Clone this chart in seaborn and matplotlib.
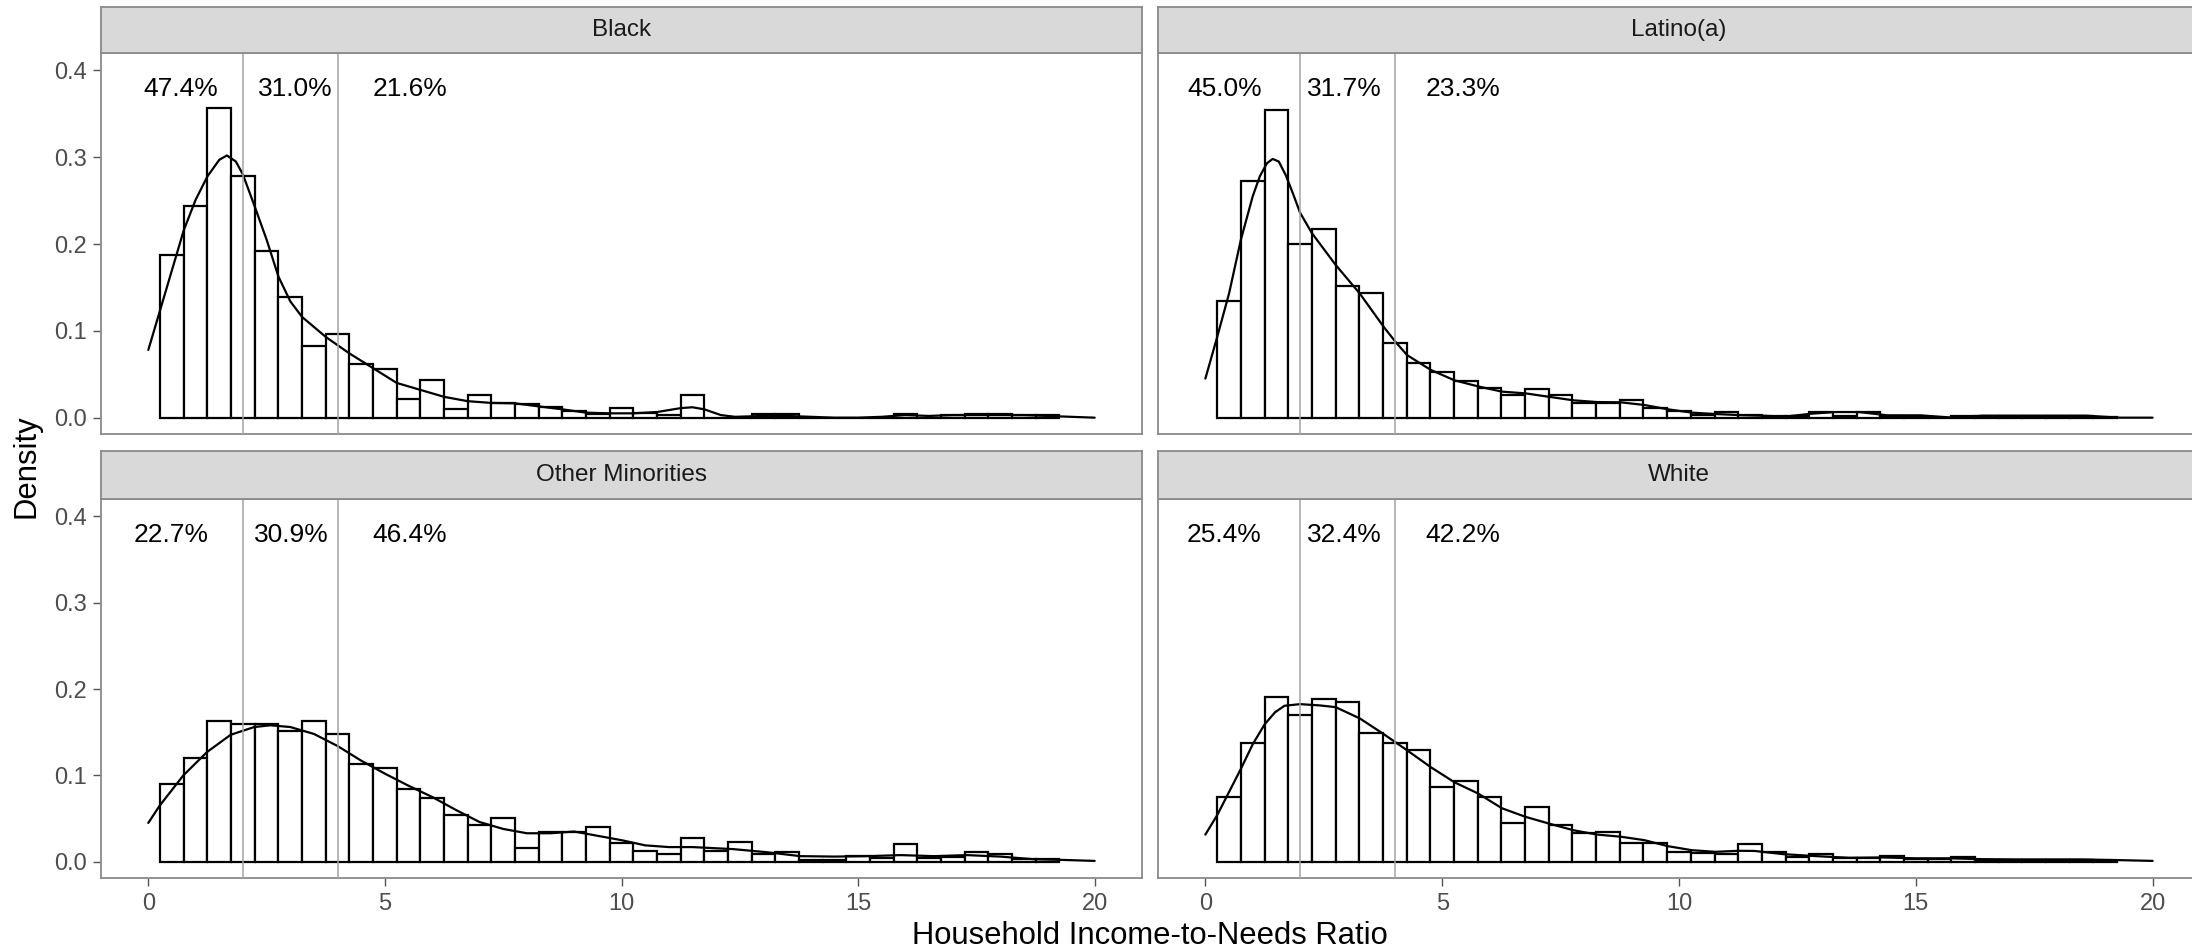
# %%
import numpy as np
import pandas as pd
import seaborn as sns
import matplotlib.pyplot as plt

# %% data
groups = ["Black", "Latino(a)", "Other Minorities", "White"]

# histogram bins of width 0.5, centred on 0.5, 1.0, ..., 19.0
bin_edges = [round(0.25 + 0.5 * k, 2) for k in range(39)]
bin_centers = [round(0.5 + 0.5 * k, 2) for k in range(38)]

hist_black = [0.1875, 0.244, 0.357, 0.278, 0.192, 0.139, 0.083, 0.096, 0.0615, 0.056,
              0.022, 0.043, 0.010, 0.026, 0.0165, 0.0154, 0.0127, 0.008, 0.0046, 0.011,
              0.005, 0.003, 0.026, 0.0, 0.0, 0.004, 0.004, 0.0, 0.0, 0.0,
              0.0, 0.004, 0.0, 0.003, 0.004, 0.004, 0.003, 0.003]
hist_latino = [0.134, 0.273, 0.354, 0.200, 0.217, 0.152, 0.144, 0.0857, 0.0626, 0.053,
               0.042, 0.034, 0.026, 0.033, 0.026, 0.0165, 0.0165, 0.020, 0.011, 0.008,
               0.003, 0.006, 0.003, 0.002, 0.002, 0.007, 0.002, 0.007, 0.002, 0.001,
               0.0, 0.002, 0.002, 0.002, 0.002, 0.002, 0.002, 0.001]
hist_other = [0.0895, 0.120, 0.1625, 0.159, 0.159, 0.151, 0.1625, 0.148, 0.113, 0.108,
              0.0845, 0.074, 0.054, 0.042, 0.051, 0.0165, 0.034, 0.034, 0.040, 0.022,
              0.012, 0.009, 0.028, 0.013, 0.023, 0.0085, 0.0115, 0.002, 0.002, 0.007,
              0.004, 0.020, 0.004, 0.005, 0.0115, 0.0085, 0.003, 0.003]
hist_white = [0.075, 0.1376, 0.191, 0.170, 0.188, 0.185, 0.149, 0.138, 0.129, 0.0865,
              0.093, 0.075, 0.045, 0.063, 0.043, 0.033, 0.034, 0.022, 0.022, 0.0115,
              0.0096, 0.0085, 0.020, 0.0115, 0.005, 0.0085, 0.0046, 0.004, 0.0065, 0.003,
              0.0027, 0.0058, 0.002, 0.002, 0.002, 0.002, 0.002, 0.001]

# density curves (x, y)
kde_black_x = [0, 0.25, 0.5, 0.75, 1.0, 1.25, 1.5, 1.66, 1.85, 2.0, 2.25, 2.5, 2.75, 3.0,
               3.25, 3.75, 4.25, 4.75, 5.25, 5.75, 6.25, 6.75, 7.25, 7.75, 8.25, 8.75,
               9.25, 9.75, 10.25, 10.75, 11.25, 11.5, 11.75, 12.1, 12.4, 13.0, 13.5, 14.0,
               14.5, 15.0, 15.5, 16.0, 16.5, 17.0, 17.5, 18.0, 18.5, 19.0, 19.5, 20.0]
kde_black_y = [0.078, 0.124, 0.170, 0.216, 0.251, 0.278, 0.297, 0.302, 0.295, 0.280, 0.243,
               0.205, 0.1625, 0.134, 0.116, 0.093, 0.074, 0.057, 0.040, 0.032, 0.024, 0.019,
               0.017, 0.0165, 0.013, 0.0096, 0.0058, 0.005, 0.005, 0.0065, 0.011, 0.012,
               0.0096, 0.003, 0.001, 0.002, 0.002, 0.001, 0.0, 0.0, 0.001, 0.003, 0.002,
               0.003, 0.003, 0.003, 0.003, 0.002, 0.001, 0.0]
kde_latino_x = [0, 0.25, 0.5, 0.75, 1.0, 1.15, 1.3, 1.42, 1.55, 1.7, 1.85, 2.0, 2.25, 2.75,
                3.26, 3.76, 4.01, 4.26, 4.76, 5.26, 5.76, 6.26, 6.76, 7.26, 7.77, 8.27,
                8.77, 9.27, 9.77, 10.27, 10.77, 11.27, 11.9, 12.2, 12.8, 13.3, 13.8, 14.4,
                15.1, 15.8, 16.4, 17.5, 18.6, 19.3, 20.0]
kde_latino_y = [0.045, 0.093, 0.143, 0.205, 0.255, 0.278, 0.293, 0.298, 0.295, 0.279, 0.258,
                0.236, 0.2125, 0.176, 0.143, 0.105, 0.0876, 0.072, 0.055, 0.043, 0.036, 0.030,
                0.028, 0.024, 0.020, 0.018, 0.0177, 0.0146, 0.0096, 0.0058, 0.0042, 0.003,
                0.002, 0.001, 0.0046, 0.0065, 0.0065, 0.0027, 0.0027, 0.0, 0.0023, 0.0023,
                0.0023, 0.0, 0.0]
kde_other_x = [0, 0.24, 0.74, 1.24, 1.74, 2.24, 2.58, 3.0, 3.5, 4.0, 4.5, 5.0, 5.5, 6.0, 6.5,
               7.0, 7.5, 8.0, 8.5, 9.0, 9.5, 10.0, 10.5, 11.0, 11.5, 12.37, 13.08, 13.78,
               14.5, 15.2, 15.9, 16.6, 17.3, 18.0, 18.7, 19.4, 20.0]
kde_other_y = [0.045, 0.065, 0.100, 0.127, 0.147, 0.156, 0.158, 0.156, 0.148, 0.134, 0.117,
               0.102, 0.088, 0.075, 0.060, 0.046, 0.038, 0.033, 0.033, 0.035, 0.030, 0.025,
               0.019, 0.017, 0.017, 0.0146, 0.011, 0.0065, 0.006, 0.0065, 0.0077, 0.0065,
               0.0077, 0.006, 0.003, 0.002, 0.001]
kde_white_x = [0, 0.25, 0.75, 1.0, 1.25, 1.47, 1.67, 2.0, 2.42, 2.75, 3.26, 3.76, 4.26, 4.76,
               5.26, 5.76, 6.26, 6.76, 7.27, 7.77, 8.27, 8.77, 9.27, 9.77, 10.27, 10.77,
               11.27, 11.6, 12.2, 12.9, 13.6, 14.3, 15.0, 15.7, 16.4, 17.1, 18.5, 19.2, 20.0]
kde_white_y = [0.0315, 0.054, 0.1076, 0.136, 0.159, 0.173, 0.1806, 0.1825, 0.181, 0.179,
               0.166, 0.148, 0.129, 0.1095, 0.092, 0.079, 0.062, 0.052, 0.044, 0.0365,
               0.0315, 0.029, 0.025, 0.018, 0.0134, 0.0115, 0.0127, 0.0125, 0.0088, 0.0065,
               0.0046, 0.005, 0.004, 0.004, 0.003, 0.0027, 0.0027, 0.002, 0.001]

# share of households below 2, between 2 and 4, above 4
pct_labels = {"Black": ["47.4%", "31.0%", "21.6%"],
              "Latino(a)": ["45.0%", "31.7%", "23.3%"],
              "Other Minorities": ["22.7%", "30.9%", "46.4%"],
              "White": ["25.4%", "32.4%", "42.2%"]}
cutoffs = [2, 4]

# %% tidy frames
hist_df = pd.concat([pd.DataFrame({"group": g, "center": bin_centers, "density": h})
                     for g, h in zip(groups, [hist_black, hist_latino, hist_other, hist_white])],
                    ignore_index=True)
kde_df = pd.concat([pd.DataFrame({"group": g, "x": x, "y": y})
                    for g, x, y in zip(groups,
                                       [kde_black_x, kde_latino_x, kde_other_x, kde_white_x],
                                       [kde_black_y, kde_latino_y, kde_other_y, kde_white_y])],
                   ignore_index=True)

# %% layout / style
sns.set_style("ticks")
plt.rcParams['font.family'] = ['Liberation Sans', 'DejaVu Sans']

W, H = 2192, 951
fig = plt.figure(figsize=(W / 100, H / 100), dpi=100)

border = "#8A8A8A"
label_x = {"Black": [0.68, 3.11, 5.53], "Latino(a)": [0.40, 2.93, 5.44],
           "Other Minorities": [0.49, 3.02, 5.53], "White": [0.40, 2.93, 5.44]}
# panel boxes in pixels: columns (left, right), rows (top, bottom, strip top)
cols = [(101, 1142), (1158, 2200)]
rows = [(53, 434, 7), (499, 878, 451)]

for i, g in enumerate(groups):
    r, c = divmod(i, 2)
    x0, x1 = cols[c]
    y0, y1, s0 = rows[r]
    ax = fig.add_axes([x0 / W, 1 - y1 / H, (x1 - x0) / W, (y1 - y0) / H])

    sub = hist_df[hist_df.group == g].reset_index(drop=True)
    sns.histplot(data=sub, x="center", weights="density", bins=bin_edges, stat="count",
                 color="white", edgecolor="black", linewidth=1.6, alpha=1, ax=ax, zorder=2)
    sns.lineplot(data=kde_df[kde_df.group == g].reset_index(drop=True), x="x", y="y",
                 estimator=None, color="black", linewidth=1.6, ax=ax, zorder=3)
    for xc in cutoffs:
        ax.axvline(xc, color="#A3A3A3", linewidth=1.1, zorder=4)
    for lx, txt in zip(label_x[g], pct_labels[g]):
        ax.text(lx, 0.378, txt, ha="center", va="center", fontsize=19, color="black")

    ax.set_xlim(-1, 21)
    ax.set_ylim(-0.0188, 0.42)
    ax.set_xticks([0, 5, 10, 15, 20])
    ax.set_yticks([0, 0.1, 0.2, 0.3, 0.4])
    ax.set_xlabel("")
    ax.set_ylabel("")
    ax.tick_params(length=5.5, width=1.0, color="#555555", labelcolor="#4D4D4D",
                   labelsize=17, pad=5)
    if r == 0:
        ax.tick_params(axis="x", length=0, labelbottom=False)
    if c == 1:
        ax.tick_params(axis="y", length=0, labelleft=False)
    for sp in ax.spines.values():
        sp.set_color(border)
        sp.set_linewidth(1.3)

    # facet strip
    sax = fig.add_axes([x0 / W, 1 - y0 / H, (x1 - x0) / W, (y0 - s0) / H])
    sax.set_facecolor("#D9D9D9")
    sax.set_xticks([])
    sax.set_yticks([])
    for sp in sax.spines.values():
        sp.set_color(border)
        sp.set_linewidth(1.3)
    sax.text(0.5, 0.5, g, transform=sax.transAxes, ha="center", va="center",
             fontsize=17.5, color="#1A1A1A")

fig.text(1150 / W, 1 - 944 / H, "Household Income-to-Needs Ratio", ha="center",
         va="baseline", fontsize=22.3, color="black")
fig.text(27 / W, 1 - 466 / H, "Density", ha="center", va="center", rotation=90,
         fontsize=22.3, color="black")

plt.savefig("out.png", dpi=100)
